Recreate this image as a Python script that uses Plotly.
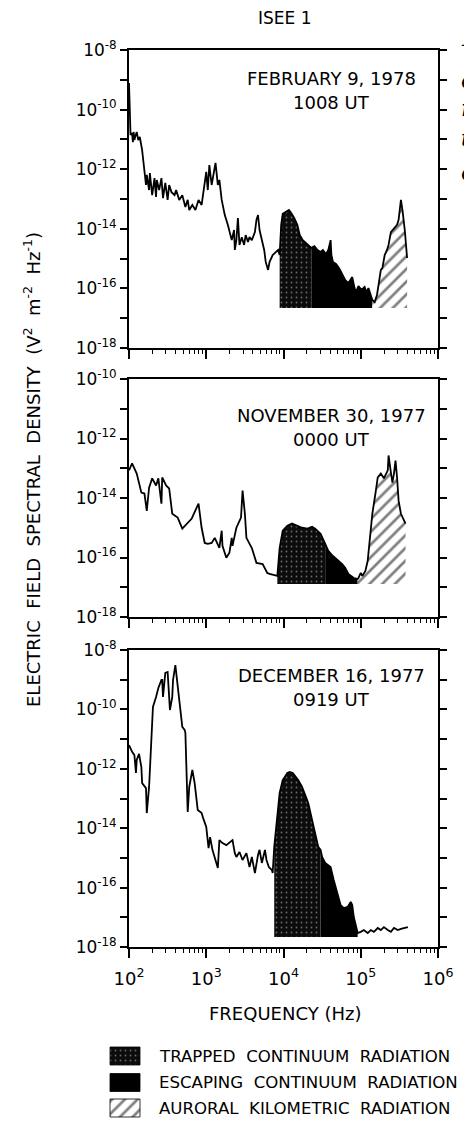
import plotly.graph_objects as go

# ---------------- data (log10 values) ----------------
# Panel 1: February 9, 1978, 1008 UT
p1_logf = [2.00, 2.01, 2.02, 2.04, 2.05, 2.06, 2.07, 2.08, 2.10, 2.12, 2.14, 2.17,
           2.20, 2.22, 2.23, 2.26, 2.27, 2.30, 2.33, 2.35, 2.36, 2.39, 2.42, 2.44, 2.47, 2.50,
           2.52, 2.55, 2.59, 2.61, 2.65, 2.69, 2.73, 2.76, 2.78, 2.82, 2.86, 2.90, 2.94, 2.98,
           3.00, 3.02, 3.04, 3.07, 3.09, 3.12, 3.15, 3.17, 3.20, 3.24, 3.28, 3.30, 3.33, 3.36,
           3.37, 3.39, 3.41, 3.43, 3.46, 3.49, 3.51, 3.54, 3.56, 3.59, 3.63, 3.65, 3.67, 3.69,
           3.72, 3.75, 3.77, 3.80, 3.82, 3.86, 3.90, 3.93, 3.95,
           3.97, 3.99, 4.03, 4.07, 4.10, 4.14, 4.18, 4.21, 4.25, 4.29, 4.33, 4.36,
           4.40, 4.44, 4.48, 4.51, 4.55, 4.58, 4.61, 4.62, 4.64, 4.68, 4.72, 4.76, 4.80, 4.84,
           4.87, 4.89, 4.92, 4.94, 4.97, 5.01, 5.05, 5.07, 5.10, 5.13, 5.15,
           5.18, 5.21, 5.23, 5.26, 5.28, 5.31, 5.34, 5.36, 5.39, 5.41, 5.44, 5.47, 5.49, 5.52,
           5.54, 5.57, 5.60]
p1_logS = [-9.11, -10.0, -10.85, -10.79, -11.09, -10.75, -11.02, -10.92, -10.75, -11.02, -10.92, -11.36,
           -12.09, -12.53, -12.19, -12.70, -12.13, -12.87, -12.30, -12.93, -12.36, -12.70, -12.30, -12.97,
           -12.46, -13.03, -12.53, -12.77, -12.87, -12.70, -13.03, -12.87, -13.27, -13.03, -13.37, -13.20,
           -13.37, -13.03, -13.20, -12.53,
           -12.09, -12.70, -11.86, -12.53, -12.19, -11.79, -12.53, -12.36, -13.03, -13.54, -13.87, -14.11,
           -14.38, -14.04, -14.71, -14.38, -13.64, -14.54, -14.28, -14.54, -14.21, -14.44, -14.28, -14.38,
           -14.11, -13.70, -13.54, -14.04, -14.38, -14.71, -15.11, -15.38, -15.11, -14.88, -14.78, -14.71,
           -14.88,
           -13.87, -13.50, -13.44, -13.37, -13.47, -13.64, -13.87, -14.21, -14.38, -14.48, -14.58, -14.64,
           -14.58, -14.71, -14.78, -14.71, -14.85, -14.71, -14.38, -14.88, -15.11, -15.18, -15.32, -15.55,
           -15.72, -15.82, -15.72, -15.62, -15.99, -16.12, -15.92, -16.05, -15.95, -16.12, -15.99, -16.22,
           -16.39,
           -16.46, -16.22, -15.89, -15.38, -15.32, -14.88, -14.71, -14.54, -14.11, -14.04, -13.97, -13.87,
           -13.70, -13.03, -13.37, -14.04, -14.98]
p1_floor = -16.66
p1_bands = {"trapped": (3.95, 4.36), "escaping": (4.36, 5.15), "auroral": (5.15, 5.60)}

# Panel 2: November 30, 1977, 0000 UT
p2_logf = [2.00, 2.04, 2.10, 2.16, 2.20, 2.23, 2.26, 2.30, 2.35, 2.38,
           2.42, 2.43, 2.48, 2.52, 2.56, 2.63, 2.69, 2.76, 2.81, 2.87,
           2.90, 2.94, 2.98, 3.02, 3.07, 3.11, 3.15, 3.17, 3.20, 3.21,
           3.26, 3.30, 3.33, 3.34, 3.39, 3.45, 3.47, 3.50, 3.52, 3.59,
           3.65, 3.73, 3.79, 3.82, 3.92, 3.95, 3.99, 4.05, 4.11, 4.18,
           4.24, 4.31, 4.37, 4.41, 4.48, 4.54, 4.58, 4.64, 4.71, 4.76,
           4.80, 4.84, 4.91, 4.96, 4.97, 5.00, 5.02, 5.06, 5.09, 5.13,
           5.15, 5.19, 5.22, 5.26, 5.30, 5.35, 5.36, 5.39, 5.41, 5.43,
           5.45, 5.47, 5.49, 5.52, 5.54, 5.58]
p2_logS = [-13.07, -12.84, -13.18, -13.82, -13.85, -14.43, -13.65, -13.34, -13.58, -13.34,
           -14.19, -13.31, -13.58, -13.68, -14.53, -14.66, -15.03, -14.83, -14.70, -14.36,
           -14.19, -15.00, -15.51, -15.54, -15.51, -15.34, -15.61, -15.68, -15.10, -15.61,
           -16.01, -15.84, -15.34, -15.61, -15.00, -14.66, -13.75, -14.53, -15.34, -15.68,
           -16.18, -16.22, -16.52, -16.55, -16.62, -15.68, -15.10, -14.93, -14.86, -14.93,
           -15.00, -15.03, -14.97, -15.03, -15.20, -15.54, -15.78, -15.95, -16.11, -16.22,
           -16.35, -16.55, -16.69, -16.72, -16.69, -16.52, -16.62, -16.45, -16.11, -15.00,
           -14.53, -13.85, -13.31, -13.18, -13.34, -13.07, -12.57, -13.14, -13.48, -13.18,
           -12.74, -13.31, -14.09, -14.53, -14.66, -14.86]
p2_floor = -16.89
p2_bands = {"trapped": (3.92, 4.54), "escaping": (4.54, 4.96), "auroral": (4.96, 5.58)}

# Panel 3: December 16, 1977, 0919 UT
p3_logf = [2.00, 2.04, 2.07, 2.09, 2.10, 2.13, 2.16, 2.17, 2.22, 2.23,
           2.26, 2.29, 2.30, 2.31, 2.35, 2.38, 2.42, 2.43, 2.44, 2.47,
           2.50, 2.51, 2.53, 2.56, 2.57, 2.60, 2.61, 2.65, 2.69, 2.72,
           2.73, 2.76, 2.78, 2.82, 2.85, 2.89, 2.94, 2.96, 3.00, 3.03,
           3.05, 3.08, 3.15, 3.17, 3.21, 3.26, 3.30, 3.34, 3.37, 3.39,
           3.43, 3.47, 3.52, 3.56, 3.59, 3.63, 3.67, 3.69, 3.72, 3.76,
           3.78, 3.81, 3.85, 3.86, 3.88, 3.92, 3.95, 3.99, 4.05, 4.08,
           4.12, 4.19, 4.24, 4.28, 4.32, 4.37, 4.41, 4.45, 4.48, 4.50,
           4.54, 4.61, 4.65, 4.70, 4.74, 4.78, 4.83, 4.87, 4.89, 4.91,
           4.96, 5.00, 5.04, 5.09, 5.13, 5.17, 5.22, 5.26, 5.30, 5.35,
           5.39, 5.43, 5.48, 5.52, 5.56, 5.61]
p3_logS = [-11.20, -11.43, -11.54, -12.14, -11.70, -11.50, -11.94, -12.48, -12.65, -13.49,
           -12.61, -10.69, -10.63, -9.92, -9.58, -9.28, -9.01, -9.01, -9.58, -8.77,
           -8.74, -9.25, -10.02, -9.58, -9.01, -8.51, -8.74, -9.45, -10.59, -10.69,
           -10.79, -13.45, -12.61, -12.04, -12.48, -13.39, -13.49, -13.66, -13.96, -14.67,
           -14.30, -14.73, -15.34, -14.40, -14.50, -14.57, -14.50, -14.40, -14.84, -14.97,
           -14.80, -15.07, -14.84, -15.31, -14.97, -15.51, -14.90, -14.73, -15.17, -14.73,
           -15.07, -15.31, -15.41, -15.51, -14.63, -13.49, -12.81, -12.38, -12.14, -12.11,
           -12.14, -12.38, -12.61, -12.88, -13.15, -13.72, -14.16, -14.63, -14.73, -14.97,
           -15.17, -15.31, -15.74, -16.18, -16.59, -16.69, -16.65, -16.48, -16.59, -16.99,
           -17.53, -17.49, -17.43, -17.53, -17.43, -17.49, -17.36, -17.43, -17.33, -17.43,
           -17.49, -17.36, -17.43, -17.39, -17.36, -17.33]
p3_floor = -17.66
p3_bands = {"trapped": (3.88, 4.48), "escaping": (4.48, 4.96)}

panel_dates = ["FEBRUARY 9, 1978", "NOVEMBER 30, 1977", "DECEMBER 16, 1977"]
panel_times = ["1008 UT", "0000 UT", "0919 UT"]
panel_yranges = [(-18, -8), (-18, -10), (-18, -8)]

x_decades = [2, 3, 4, 5, 6]
legend_names = ["TRAPPED CONTINUUM RADIATION", "ESCAPING CONTINUUM RADIATION",
                "AURORAL KILOMETRIC RADIATION"]
legend_keys = ["trapped", "escaping", "auroral"]
caption_letters = ["F", "c", "r", "t", "c"]

# ---------------- layout constants (page pixels) ----------------
PAGE_W, PAGE_H = 472, 1122
BODY = 8                      # default page margin around the plot div
W, H = PAGE_W - BODY, PAGE_H - BODY
FONT = "DejaVu Sans"
plot_x_px = (129, 438)
panel_y_px = [(50, 348), (379, 617), (650, 947)]
date_y_px = [78, 415, 675]


def fx(px):
    return (px - BODY) / W


def fy(py):
    return 1 - (py - BODY) / H


styles = {
    "trapped": dict(fillcolor="#0c0c0c",
                    fillpattern=dict(shape=".", bgcolor="#0c0c0c", fgcolor="#c8c8c8",
                                     size=5, solidity=0.1)),
    "escaping": dict(fillcolor="black"),
    "auroral": dict(fillcolor="white",
                    fillpattern=dict(shape="/", bgcolor="white", fgcolor="black",
                                     size=9, solidity=0.3)),
}

panels = [
    (p1_logf, p1_logS, p1_floor, p1_bands),
    (p2_logf, p2_logS, p2_floor, p2_bands),
    (p3_logf, p3_logS, p3_floor, p3_bands),
]

fig = go.Figure()
annotations = []

for i, (lf, ls, floor, bands) in enumerate(panels):
    n = i + 1
    xa, ya = ("x" if n == 1 else f"x{n}"), ("y" if n == 1 else f"y{n}")
    # shaded regions
    for key, (lo, hi) in bands.items():
        pts = [(f, s) for f, s in zip(lf, ls) if lo - 1e-9 <= f <= hi + 1e-9]
        xs = [10 ** f for f, _ in pts] + [10 ** hi, 10 ** lo]
        ys = [10 ** s for _, s in pts] + [10 ** floor, 10 ** floor]
        fig.add_trace(go.Scatter(x=xs, y=ys, fill="toself", mode="lines",
                                 line=dict(width=0, color="black"), showlegend=False,
                                 hoverinfo="skip", xaxis=xa, yaxis=ya, **styles[key]))
    # spectrum
    fig.add_trace(go.Scatter(x=[10 ** f for f in lf], y=[10 ** s for s in ls], mode="lines",
                             line=dict(color="black", width=1.8), showlegend=False,
                             xaxis=xa, yaxis=ya))

    y0, y1 = panel_yranges[i]
    top_px, bot_px = panel_y_px[i]
    common_line = dict(showline=True, linecolor="black", linewidth=1.8, showgrid=False,
                       zeroline=False, automargin=False)
    fig.update_layout(**{
        f"xaxis{'' if n == 1 else n}": dict(
            type="log", range=[2, 6], domain=[fx(plot_x_px[0]), fx(plot_x_px[1])],
            anchor=ya, mirror=True, ticks="outside", ticklen=9, tickwidth=1.5,
            tickcolor="black",
            tickvals=[10 ** k for k in x_decades],
            ticktext=[f"10<sup>{k}</sup>" for k in x_decades],
            showticklabels=(n == 3), ticklabelstandoff=5,
            tickfont=dict(family=FONT, size=18, color="black"),
            minor=dict(ticks="outside", ticklen=4, tickwidth=1, tickcolor="black",
                       tickvals=[m * 10 ** k for k in x_decades[:-1] for m in range(2, 10)]),
            **common_line),
        f"yaxis{'' if n == 1 else n}": dict(
            type="log", range=[y0, y1], domain=[fy(bot_px), fy(top_px)],
            anchor=xa, mirror="ticks", ticks="outside", ticklen=7, tickwidth=1.5,
            tickcolor="black",
            tickvals=[10 ** k for k in range(y0, y1 + 1) if k % 2 == 0],
            ticktext=[f"10<sup>{k}</sup>" for k in range(y0, y1 + 1) if k % 2 == 0],
            minor=dict(ticks="outside", ticklen=7, tickwidth=1.5, tickcolor="black",
                       tickvals=[10 ** k for k in range(y0, y1 + 1) if k % 2 != 0]),
            tickfont=dict(family=FONT, size=17, color="black"),
            **common_line),
    })

    cx = fx(331)
    annotations.append(dict(text=panel_dates[i], x=cx, y=fy(date_y_px[i]), xref="paper",
                            yref="paper", showarrow=False,
                            font=dict(family=FONT, size=18, color="black"),
                            xanchor="center", yanchor="middle"))
    annotations.append(dict(text=panel_times[i], x=cx, y=fy(date_y_px[i] + 24), xref="paper",
                            yref="paper", showarrow=False,
                            font=dict(family=FONT, size=18, color="black"),
                            xanchor="center", yanchor="middle"))

# titles
annotations.append(dict(text="ISEE 1", x=fx(285), y=fy(18), xref="paper", yref="paper",
                        showarrow=False, font=dict(family=FONT, size=17, color="black"),
                        xanchor="center", yanchor="middle"))
annotations.append(dict(text="FREQUENCY (Hz)", x=fx(285), y=fy(1013), xref="paper",
                        yref="paper", showarrow=False, xanchor="center", yanchor="middle",
                        font=dict(family=FONT, size=18, color="black")))
sp = "\u00a0\u00a0"
annotations.append(dict(
    text=(f"ELECTRIC{sp}FIELD{sp}SPECTRAL{sp}DENSITY{sp}(V<sup>2</sup>{sp}"
          f"m<sup>-2</sup>{sp}Hz<sup>-1</sup>)"),
    x=fx(32), y=fy(470), xref="paper", yref="paper", showarrow=False, textangle=-90,
    font=dict(family=FONT, size=18, color="black"), xanchor="center", yanchor="middle"))

# cut-off caption letters at the right edge of the page
for k, (ch, cy) in enumerate(zip(caption_letters, [38, 80, 109, 138, 172])):
    annotations.append(dict(text=f"<i>{ch}</i>", x=fx(459), y=fy(cy), xref="paper",
                            yref="paper", showarrow=False, xanchor="left", yanchor="middle",
                            font=dict(family="DejaVu Serif", size=24 if k == 0 else 22,
                                      color="black")))

# legend (drawn on a hidden axis measured in page pixels)
leg_row_px = [1056, 1082.5, 1108]
sw_x, sw_w, sw_h = 110, 30, 18
fig.update_layout(
    xaxis4=dict(domain=[0, 1], range=[BODY, PAGE_W], visible=False, anchor="y4",
                fixedrange=True, automargin=False),
    yaxis4=dict(domain=[0, fy(1038)], range=[PAGE_H, 1038], visible=False, anchor="x4",
                fixedrange=True, automargin=False),
)
for key, name, cy in zip(legend_keys, legend_names, leg_row_px):
    fig.add_trace(go.Scatter(
        x=[sw_x, sw_x + sw_w, sw_x + sw_w, sw_x, sw_x],
        y=[cy - sw_h / 2, cy - sw_h / 2, cy + sw_h / 2, cy + sw_h / 2, cy - sw_h / 2],
        fill="toself", mode="lines", line=dict(width=0.8, color="black"),
        showlegend=False, hoverinfo="skip", xaxis="x4", yaxis="y4", **styles[key]))
    annotations.append(dict(text=name.replace(" ", "\u00a0\u00a0"), x=fx(157), y=fy(cy),
                            xref="paper", yref="paper", showarrow=False, xanchor="left",
                            yanchor="middle", font=dict(family=FONT, size=16.6, color="black")))

fig.update_layout(width=W, height=H,
                  margin=dict(l=0, r=0, t=0, b=0, pad=0, autoexpand=False),
                  paper_bgcolor="white", plot_bgcolor="white", showlegend=False,
                  annotations=annotations)

fig.write_html("out.html")
